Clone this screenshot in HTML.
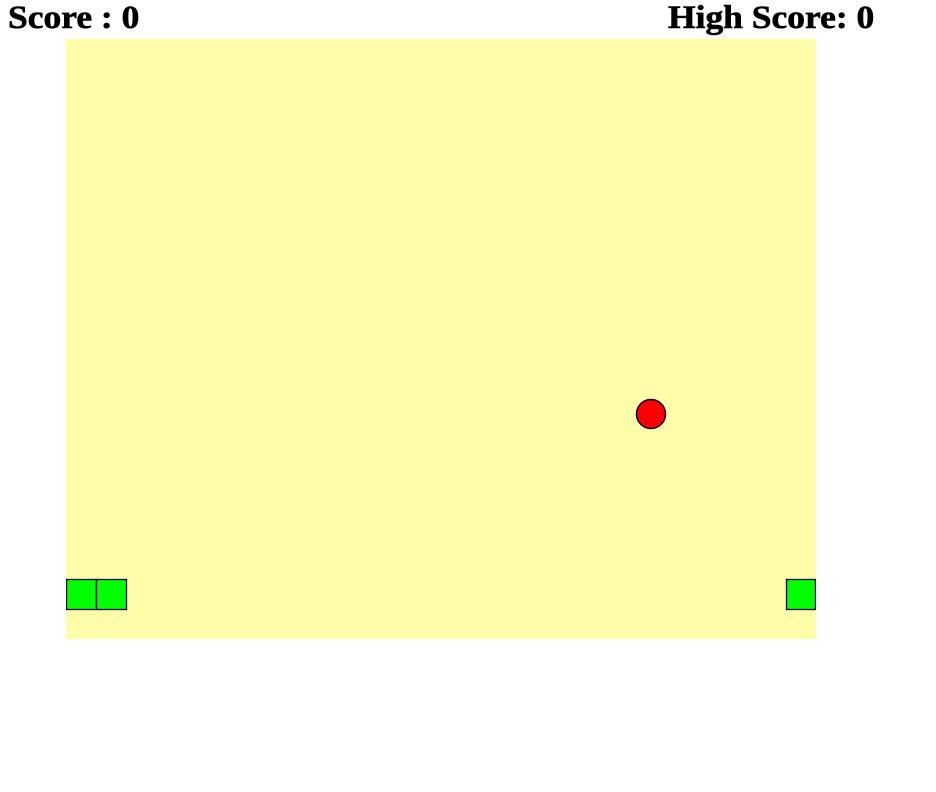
<!DOCTYPE html>
<html><head><meta charset="utf-8"><style>
body{margin:0;width:936px;height:792px;background:#fff;position:relative;overflow:hidden;font-family:"Liberation Serif",serif;}
.t{position:absolute;top:0;font-weight:bold;font-size:33px;line-height:36px;margin:0;transform:scaleX(1.075);transform-origin:0 0;white-space:nowrap;-webkit-text-stroke:0.6px #000}
</style></head><body>
<div class="t" style="left:8px">Score : 0</div>
<div class="t" style="left:668px">High Score: 0</div>
<svg style="position:absolute;left:66px;top:39px" width="750" height="600">
<rect width="750" height="600" fill="#fffdaa"/>
<rect x="0.5" y="540.5" width="30" height="30" fill="#00ff00" stroke="#000" stroke-width="1.3"/>
<rect x="30.5" y="540.5" width="30" height="30" fill="#00ff00" stroke="#000" stroke-width="1.3"/>
<rect x="720.5" y="540.5" width="29" height="30" fill="#00ff00" stroke="#000" stroke-width="1.3"/>
<circle cx="585" cy="375" r="14.5" fill="#ff0000" stroke="#000" stroke-width="1.5"/>
</svg>
</body></html>
